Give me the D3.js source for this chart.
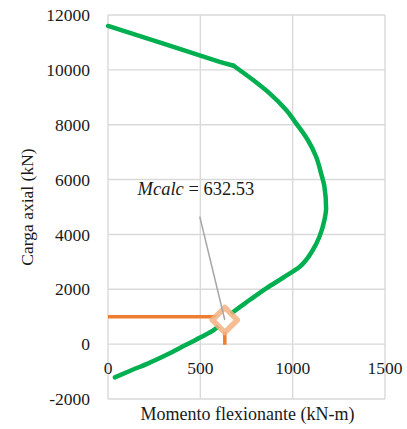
<!DOCTYPE html>
<html><head><meta charset="utf-8">
<script src="https://cdn.jsdelivr.net/npm/d3@7"></script>
<style>body{margin:0;background:#fff}svg{display:block}text{font-family:"Liberation Serif","DejaVu Serif","Times New Roman",serif}</style>
</head><body><svg id="c" width="407" height="429"></svg>
<script>
// Interaction diagram (green)
const momento = [0, 300, 605, 680, 786, 875, 965, 1019, 1082, 1127, 1155, 1172, 1181, 1172, 1145, 1109, 1038, 950, 857, 767, 680, 632, 572, 507, 420, 315, 218, 130, 37];
const carga   = [11600, 10955, 10290, 10150, 9629, 9144, 8535, 8050, 7442, 6833, 6200, 5739, 4951, 4525, 3916, 3431, 2822, 2430, 2034, 1608, 1181, 880, 514, 270, -33, -397, -700, -944, -1211];
// Orange design load line
const cargaM = [0, 632.53, 632.53];
const cargaP = [1000, 1000, -20];
// Marker point
const markerM = [632.53];
const markerP = [880];
// Annotation
const annoText = ["Mcalc", " = 632.53"];
const annoTextPos = [160, 5440];
const annoLineM = [497, 632.53];
const annoLineP = [4650, 880];
// Ticks
const xTicks = [0, 500, 1000, 1500];
const yTicks = [-2000, 0, 2000, 4000, 6000, 8000, 10000, 12000];
const xTitle = "Momento flexionante (kN-m)";
const yTitle = "Carga axial (kN)";

const svg = d3.select("#c");
const x = d3.scaleLinear().domain([0, 1500]).range([108, 385]);
const y = d3.scaleLinear().domain([-2000, 12000]).range([399, 15]);

const grid = svg.append("g").attr("stroke", "#d9d9d9").attr("stroke-width", 1.4);
xTicks.forEach(t => grid.append("line").attr("x1", x(t)).attr("x2", x(t)).attr("y1", y(12000)).attr("y2", y(-2000)));
yTicks.forEach(t => grid.append("line").attr("x1", x(0)).attr("x2", x(1500)).attr("y1", y(t)).attr("y2", y(t)));

// tick labels
svg.append("g").selectAll("text").data(yTicks).join("text")
  .attr("x", 90).attr("y", d => y(d)).attr("dy", "0.35em")
  .attr("text-anchor", "end").attr("font-size", 17.5).attr("fill", "#1a1a1a")
  .text(d => d);
svg.append("g").selectAll("text").data(xTicks).join("text")
  .attr("x", d => x(d)).attr("y", y(0) + 30)
  .attr("text-anchor", "middle").attr("font-size", 17.5).attr("fill", "#1a1a1a")
  .text(d => d);

// titles
svg.append("text").attr("x", (x(0) + x(1500)) / 2 + 1).attr("y", 420).attr("text-anchor", "middle")
  .attr("font-size", 18).attr("fill", "#1a1a1a").text(xTitle);
svg.append("text").attr("transform", "translate(33,207) rotate(-90)").attr("text-anchor", "middle")
  .attr("font-size", 17.5).attr("fill", "#1a1a1a").text(yTitle);

const line = d3.line().x(d => x(d[0])).y(d => y(d[1]));
const smooth = d3.line().x(d => x(d[0])).y(d => y(d[1])).curve(d3.curveMonotoneY);

// orange load line
svg.append("path").datum(cargaM.map((m, i) => [m, cargaP[i]]))
  .attr("d", line).attr("fill", "none").attr("stroke", "#ED7D31").attr("stroke-width", 3.5);

// green curve: straight top segment up to the break, smooth below it
const pts = momento.map((m, i) => [m, carga[i]]);
const brk = 3;
svg.append("path").datum(pts.slice(0, brk + 1))
  .attr("d", line).attr("fill", "none").attr("stroke", "#00B050").attr("stroke-width", 4.5)
  .attr("stroke-linecap", "round");
svg.append("path").datum(pts.slice(brk))
  .attr("d", smooth).attr("fill", "none").attr("stroke", "#00B050").attr("stroke-width", 4.5)
  .attr("stroke-linecap", "round");

// marker
const r = 12.5;
markerM.forEach((m, i) => {
  const cx = x(m), cy = y(markerP[i]);
  svg.append("path")
    .attr("d", `M${cx},${cy - r}L${cx + r},${cy}L${cx},${cy + r}L${cx - r},${cy}Z`)
    .attr("fill", "#fff").attr("stroke", "#F4B183").attr("stroke-width", 5.5)
    .attr("stroke-opacity", 0.85).attr("stroke-linejoin", "round");
});

// annotation leader line
svg.append("path").datum(annoLineM.map((m, i) => [m, annoLineP[i]]))
  .attr("d", line).attr("fill", "none").attr("stroke", "#a6a6a6").attr("stroke-width", 1.5);

const at = svg.append("text").attr("x", x(annoTextPos[0])).attr("y", y(annoTextPos[1]))
  .attr("font-size", 18.5).attr("fill", "#1a1a1a");
at.append("tspan").attr("font-style", "italic").text(annoText[0]);
at.append("tspan").text(annoText[1]);
</script></body></html>
